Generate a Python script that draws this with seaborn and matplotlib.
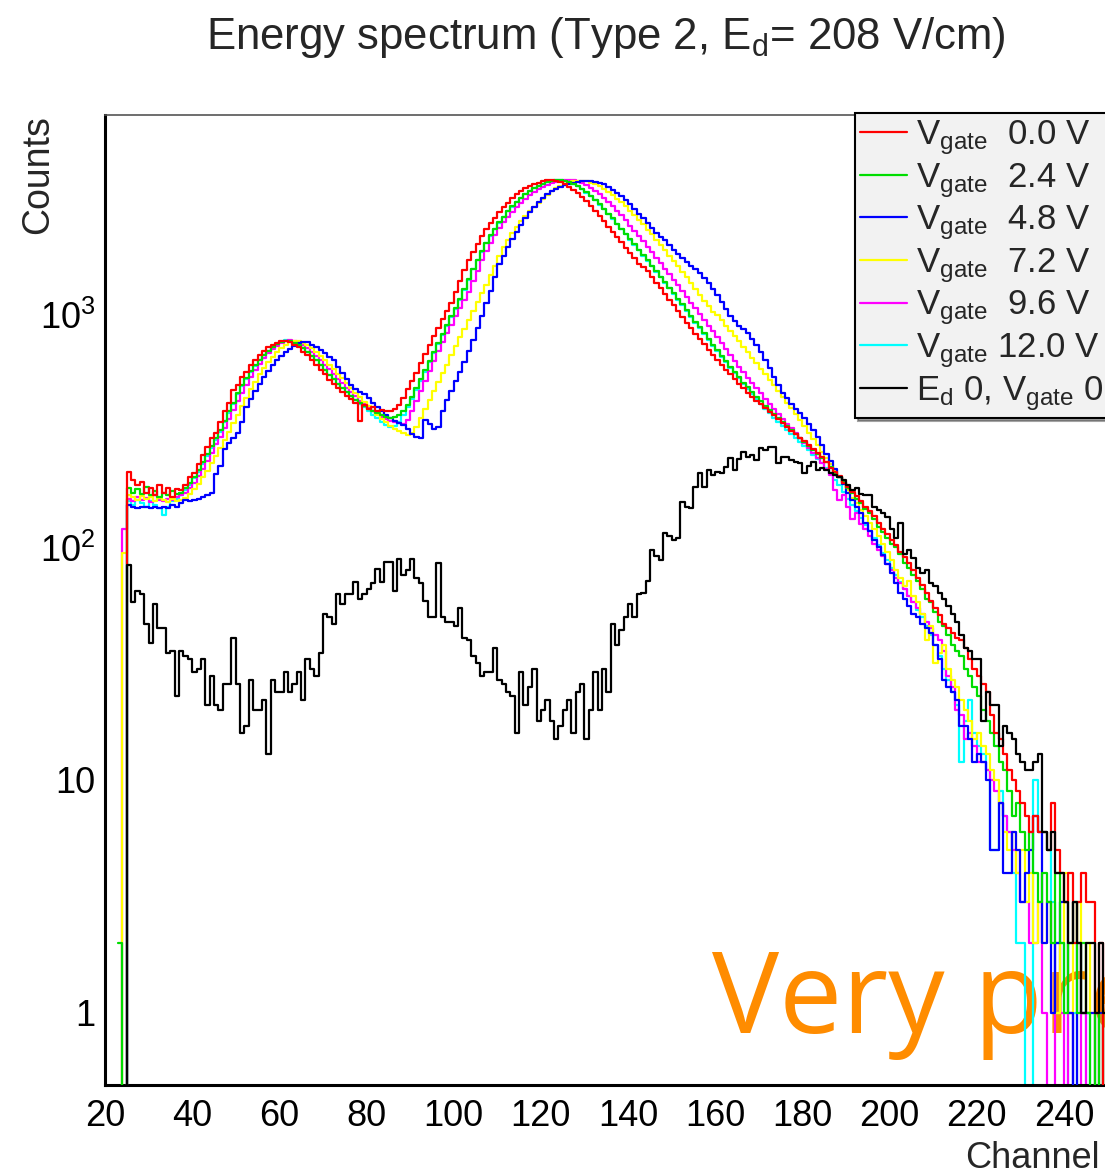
import numpy as np
import pandas as pd
import matplotlib
matplotlib.use('Agg')
import matplotlib.pyplot as plt
import seaborn as sns
from matplotlib.lines import Line2D
from matplotlib.ticker import FixedLocator, LogLocator, MultipleLocator, NullFormatter, FuncFormatter

# counts per channel, first bin = channel 23
first_channel = 23

vgate_00 = [0, 0,
            212, 195, 185, 192, 172, 180, 168, 185, 172, 180, 165, 178, 176, 185, 200,
            210, 229, 250, 270, 295, 312, 345, 385, 420, 475, 500, 540, 570, 610, 640,
            675, 700, 725, 745, 760, 775, 770, 765, 745, 725, 690, 670, 640, 610, 580,
            555, 525, 505, 485, 465, 450, 435, 420, 350, 410, 395, 400, 385, 392, 388,
            385, 395, 410, 440, 480, 520, 565, 620, 680, 740, 810, 880, 960, 1040, 1130,
            1260, 1400, 1560, 1720, 1870, 2020, 2180, 2340, 2480, 2620, 2780, 2900, 3040,
            3170, 3300, 3400, 3500, 3580, 3640, 3700, 3760, 3800, 3810, 3780, 3720, 3650,
            3560, 3460, 3340, 3220, 3080, 2940, 2800, 2660, 2530, 2400, 2280, 2170, 2060,
            1950, 1850, 1750, 1660, 1600, 1540, 1450, 1370, 1300, 1230, 1160, 1100, 1040,
            980, 920, 880, 830, 790, 750, 710, 675, 640, 610, 580, 555, 530, 505, 485,
            462, 445, 428, 412, 398, 383, 370, 356, 343, 330, 318, 307, 297, 287, 276,
            266, 256, 244, 232, 220, 212, 202, 190, 182, 174, 166, 158, 150, 143, 136,
            128, 120, 114, 108, 102, 96, 91, 86, 80, 74, 69, 64, 59, 55, 51, 47, 45, 43,
            41, 40, 37, 33, 30, 28, 26, 24, 19, 16, 15, 13, 11, 10, 9, 8, 7, 6, 7, 6, 6,
            5, 8, 5, 4, 3, 4, 2, 3, 4, 3, 3, 1, 2, 0]

vgate_24 = [2, 0,
            180, 172, 178, 170, 182, 168, 175, 165, 172, 168, 175, 170, 172, 180, 190,
            200, 215, 232, 252, 272, 295, 320, 350, 385, 420, 460, 500, 535, 575, 610,
            640, 672, 700, 725, 748, 762, 775, 770, 760, 742, 720, 695, 668, 640, 610,
            580, 552, 528, 505, 485, 465, 448, 432, 418, 405, 395, 385, 378, 370, 365,
            362, 365, 370, 385, 410, 445, 485, 530, 580, 635, 695, 760, 830, 905, 985,
            1070, 1170, 1290, 1430, 1580, 1730, 1880, 2040, 2200, 2350, 2500, 2650, 2800,
            2930, 3060, 3190, 3310, 3420, 3520, 3600, 3670, 3730, 3780, 3800, 3800, 3780,
            3730, 3660, 3580, 3480, 3370, 3250, 3120, 2990, 2860, 2730, 2600, 2470, 2350,
            2230, 2120, 2010, 1910, 1810, 1720, 1630, 1540, 1460, 1380, 1310, 1240, 1170,
            1110, 1050, 990, 935, 885, 835, 790, 745, 705, 668, 632, 600, 570, 540, 512,
            488, 465, 444, 425, 406, 390, 374, 360, 346, 333, 320, 308, 296, 285, 274,
            262, 252, 242, 232, 222, 210, 200, 192, 180, 172, 162, 156, 146, 140, 132,
            122, 116, 110, 104, 100, 94, 86, 82, 76, 72, 66, 60, 58, 53, 48, 46, 42, 38,
            36, 34, 30, 28, 25, 23, 20, 18, 16, 14, 12, 11, 9, 7, 8, 6, 5, 6, 4, 3,
            4, 3, 2, 4, 2, 1, 2, 3, 1, 2, 1, 0, 1, 0, 1]

vgate_48 = [0, 0,
            152, 150, 148, 150, 149, 148, 150, 148, 150, 148, 152, 150, 155, 160, 158,
            160, 162, 165, 168, 172, 208, 225, 265, 280, 295, 310, 345, 400, 435, 470,
            505, 540, 575, 610, 640, 665, 690, 712, 735, 758, 765, 762, 745, 728, 705,
            685, 662, 640, 600, 565, 530, 500, 480, 465, 455, 440, 420, 400, 385, 370,
            360, 350, 343, 335, 322, 308, 300, 296, 355, 340, 322, 330, 385, 430, 470,
            520, 570, 630, 700, 780, 880, 990, 1120, 1270, 1450, 1650, 1800, 1960,
            2120, 2280, 2440, 2600, 2780, 2920, 3050, 3180, 3300, 3400, 3480, 3550, 3610,
            3660, 3700, 3730, 3750, 3760, 3750, 3730, 3700, 3640, 3560, 3460, 3360, 3240,
            3120, 2990, 2860, 2730, 2600, 2480, 2360, 2260, 2170, 2090, 2000, 1910, 1830,
            1750, 1690, 1630, 1570, 1510, 1440, 1370, 1290, 1220, 1140, 1060, 990, 940,
            900, 870, 840, 790, 740, 690, 640, 590, 540, 500, 460, 440, 415, 395, 378,
            360, 340, 320, 300, 275, 253, 236, 218, 200, 188, 172, 160, 150, 140, 128,
            118, 108, 100, 93, 85, 78, 70, 64, 60, 56, 52, 50, 47, 45, 43, 38, 33, 27,
            25, 24, 22, 17, 17, 15, 12, 13, 12, 10, 5, 5, 8, 4, 4, 6, 5, 3, 4, 5, 7,
            6, 2, 3, 1, 2, 3, 3, 1, 0, 2, 1, 1, 1, 0, 1, 0]

vgate_72 = [0, 95,
            168, 165, 160, 166, 162, 165, 158, 163, 160, 157, 162, 158, 160, 164, 170,
            178, 188, 200, 214, 230, 248, 268, 290, 315, 342, 372, 405, 440, 478, 515,
            555, 592, 628, 662, 695, 722, 745, 762, 772, 770, 760, 742, 720, 695, 668,
            640, 612, 585, 558, 533, 508, 485, 463, 443, 424, 405, 388, 372, 358, 345,
            334, 324, 316, 310, 305, 310, 330, 360, 395, 430, 470, 515, 560, 610, 670,
            735, 805, 870, 950, 1040, 1140, 1240, 1350, 1480, 1630, 1800, 1960, 2100,
            2250, 2400, 2530, 2660, 2800, 2920, 3040, 3160, 3290, 3400, 3500, 3580, 3640,
            3700, 3750, 3780, 3780, 3760, 3710, 3650, 3570, 3480, 3380, 3270, 3160, 3050,
            2930, 2810, 2690, 2570, 2450, 2330, 2220, 2110, 2000, 1900, 1800, 1710, 1620,
            1530, 1450, 1370, 1290, 1220, 1150, 1090, 1030, 1000, 950, 900, 855, 812,
            770, 730, 692, 655, 620, 588, 556, 526, 498, 470, 444, 420, 396, 374, 352,
            332, 312, 294, 276, 258, 242, 228, 214, 200, 188, 176, 164, 155, 145, 136,
            128, 120, 112, 104, 96, 88, 80, 74, 68, 72, 62, 58, 52, 40, 46, 32, 35, 38,
            30, 27, 25, 22, 20, 18, 15, 16, 14, 13, 11, 10, 8, 6, 5, 6, 4, 5, 3, 4, 2,
            3, 2, 3, 2, 1, 2, 4, 1, 2, 3, 1, 2, 1, 0, 1, 0]

vgate_96 = [0, 120,
            162, 158, 165, 160, 163, 157, 168, 160, 158, 162, 160, 165, 168, 172, 180,
            190, 202, 218, 236, 256, 278, 300, 326, 356, 390, 425, 462, 500, 540, 578,
            615, 650, 684, 712, 738, 758, 772, 778, 772, 760, 742, 720, 695, 668, 640,
            612, 585, 558, 532, 508, 486, 465, 446, 428, 412, 398, 385, 374, 364, 356,
            350, 345, 342, 340, 355, 385, 425, 470, 520, 575, 635, 700, 765, 835, 905,
            985, 1070, 1160, 1260, 1400, 1550, 1720, 1880, 2040, 2200, 2360, 2500, 2640,
            2780, 2920, 3040, 3160, 3280, 3380, 3470, 3550, 3620, 3680, 3730, 3770, 3800,
            3810, 3790, 3750, 3690, 3610, 3520, 3420, 3310, 3190, 3070, 2940, 2810, 2680,
            2550, 2420, 2300, 2180, 2070, 1960, 1860, 1760, 1670, 1580, 1500, 1420, 1340,
            1270, 1200, 1130, 1070, 1010, 950, 900, 850, 800, 755, 712, 672, 635, 600,
            568, 538, 510, 484, 460, 437, 415, 395, 376, 358, 341, 325, 310, 296, 282,
            268, 255, 242, 230, 218, 205, 176, 160, 168, 150, 132, 140, 126, 120, 112,
            104, 98, 92, 85, 80, 74, 70, 66, 62, 58, 55, 52, 48, 45, 42, 40, 36, 28,
            25, 20, 19, 15, 16, 14, 12, 12, 11, 10, 9, 8, 7, 6, 5, 4, 3, 3, 2, 2, 3,
            1, 0, 0, 2, 1, 0, 1, 0, 0, 1, 0, 0, 0, 0, 0]

vgate_120 = [0, 0,
             158, 152, 160, 155, 150, 158, 153, 148, 138, 150, 158, 162, 168, 176, 186,
             198, 212, 228, 248, 268, 290, 315, 345, 380, 415, 455, 495, 530, 570, 605,
             638, 670, 700, 725, 748, 765, 778, 772, 760, 742, 720, 695, 668, 640, 610,
             580, 552, 528, 505, 485, 465, 448, 430, 415, 400, 385, 372, 360, 348, 335,
             330, 332, 345, 370, 400, 435, 475, 520, 570, 625, 685, 750, 820, 895, 975,
             1060, 1160, 1280, 1420, 1570, 1720, 1870, 2030, 2190, 2340, 2490, 2640, 2790,
             2920, 3050, 3180, 3300, 3410, 3510, 3590, 3660, 3720, 3770, 3790, 3790, 3770,
             3720, 3650, 3570, 3470, 3360, 3240, 3110, 2980, 2850, 2720, 2590, 2460, 2340,
             2220, 2110, 2000, 1900, 1800, 1710, 1620, 1530, 1450, 1370, 1300, 1230, 1160,
             1100, 1040, 980, 925, 875, 825, 780, 738, 698, 660, 625, 592, 562, 533, 506,
             480, 456, 434, 414, 395, 378, 362, 348, 334, 320, 308, 296, 284, 273, 262,
             250, 240, 230, 220, 208, 196, 185, 174, 162, 152, 143, 134, 125, 118, 110,
             102, 95, 88, 82, 76, 71, 66, 62, 58, 54, 50, 46, 42, 38, 34, 30, 27, 24,
             21, 12, 18, 22, 16, 14, 13, 11, 5, 5, 9, 7, 6, 4, 2, 2, 0, 0, 10, 6, 6,
             5, 3, 1, 2, 1, 0, 1, 0, 0, 1, 0, 0, 0, 0]

ed0_vgate0 = [0, 0,
              84, 58, 65, 63, 47, 39, 57, 45, 45, 35, 36, 23, 36, 34, 33,
              29, 30, 33, 21, 28, 21, 20, 26, 26, 41, 26, 16, 17, 27, 20,
              20, 22, 13, 27, 24, 24, 29, 24, 26, 29, 22, 33, 30, 28, 35,
              52, 50, 47, 63, 57, 63, 63, 71, 60, 63, 66, 70, 81, 71, 87,
              87, 65, 89, 76, 80, 89, 74, 70, 59, 50, 50, 86, 50, 48, 48,
              46, 55, 41, 40, 34, 32, 28, 29, 29, 37, 27, 26, 24, 23, 16,
              29, 21, 25, 30, 18, 20, 22, 18, 15, 17, 20, 22, 16, 24, 26,
              15, 20, 29, 20, 30, 24, 47, 38, 44, 50, 57, 50, 63, 64, 72,
              98, 92, 88, 115, 112, 108, 110, 157, 150, 148, 182, 210, 182, 215, 205,
              212, 210, 222, 243, 215, 240, 257, 245, 250, 238, 268, 262, 270, 270, 231,
              245, 245, 238, 232, 231, 210, 225, 234, 215, 220, 215, 210, 205, 200, 195,
              185, 177, 180, 170, 168, 168, 150, 145, 141, 135, 120, 110, 127, 94, 98,
              90, 82, 78, 80, 70, 68, 64, 60, 56, 52, 48, 42, 37, 36, 33, 33, 18, 24,
              21, 21, 14, 17, 16, 15, 13, 12, 11, 11, 12, 13, 6, 5, 6, 4, 4, 3, 2, 3,
              2, 1, 2, 2, 1, 2, 1]

series_labels = [r'V$_{\rm gate}$  0.0 V', r'V$_{\rm gate}$  2.4 V', r'V$_{\rm gate}$  4.8 V',
                 r'V$_{\rm gate}$  7.2 V', r'V$_{\rm gate}$  9.6 V', r'V$_{\rm gate}$ 12.0 V',
                 r'E$_{\rm d}$ 0, V$_{\rm gate}$ 0 V']
series_counts = [vgate_00, vgate_24, vgate_48, vgate_72, vgate_96, vgate_120, ed0_vgate0]
series_colors = ['#ff0000', '#00dd00', '#0000ff', '#ffff00', '#ff00ff', '#00ffff', '#000000']
series_z = [6, 5, 4, 3, 2, 1, 7]

sns.set_style('white')
plt.rcParams['font.family'] = ['Liberation Sans', 'DejaVu Sans']
plt.rcParams['mathtext.fontset'] = 'custom'
plt.rcParams['mathtext.rm'] = 'Liberation Sans'
plt.rcParams['mathtext.it'] = 'Liberation Sans:italic'

fig = plt.figure(figsize=(11.05, 11.72), dpi=100)
ax = fig.add_axes([0.095, 0.0742, 0.9468, 0.8277])

for counts, color, z in zip(series_counts, series_colors, series_z):
    df = pd.DataFrame({'channel': np.arange(first_channel, first_channel + len(counts)) + 0.5,
                       'counts': np.asarray(counts, dtype=float)})
    sns.histplot(data=df, x='channel', weights='counts', binwidth=1,
                 binrange=(first_channel, first_channel + len(counts)),
                 element='step', fill=False, color=color, linewidth=1.6, ax=ax, zorder=z)

ax.set_yscale('log')
ax.set_xlim(20, 260)
ax.set_ylim(0.4877, 7244)

ax.xaxis.set_major_locator(MultipleLocator(20))
ax.xaxis.set_minor_locator(MultipleLocator(5))
ax.yaxis.set_major_locator(FixedLocator([1, 10, 100, 1000]))
ax.yaxis.set_minor_locator(LogLocator(base=10, subs=np.arange(2, 10)))
ax.yaxis.set_minor_formatter(NullFormatter())
ylabels = {1: '1', 10: '10', 100: r'10$^{2}$', 1000: r'10$^{3}$'}
ax.yaxis.set_major_formatter(FuncFormatter(lambda v, p: ylabels.get(int(round(v)), '')))

ax.tick_params(axis='both', which='both', direction='in', top=False, right=False,
               colors='black', labelsize=26, width=1.5)
ax.tick_params(axis='y', which='major', length=23, pad=7)
ax.tick_params(axis='y', which='minor', length=12)
ax.tick_params(axis='x', which='major', length=20, pad=10)
ax.tick_params(axis='x', which='minor', length=11)
for side in ['left', 'bottom']:
    ax.spines[side].set_linewidth(2.2)
    ax.spines[side].set_color('black')
ax.spines['top'].set_linewidth(1.2)
ax.spines['top'].set_color('#555555')
ax.spines['right'].set_visible(False)

ax.set_xlabel('')
ax.set_ylabel('Counts', fontsize=27, loc='top')
ax.yaxis.set_label_coords(-0.047, 1.0)

fig.text(965 / 1105, 1 - 1168 / 1172, 'Channel', fontsize=26, ha='left', va='baseline')
fig.text(606 / 1105, 1 - 38 / 1172, r'Energy spectrum (Type 2, E$_{\rm d}$= 208 V/cm)',
         fontsize=31.5, ha='center', va='center')

ax.text(712 / 1105, 1 - 1033 / 1172, 'Very preliminary', transform=fig.transFigure,
        fontsize=81, color='#ff8c00', family='Open Sans', ha='left', va='baseline', zorder=0.5)

handles = [Line2D([], [], color=c, linewidth=1.6) for c in series_colors]
leg = ax.legend(handles, series_labels, loc='upper left', bbox_to_anchor=(855 / 1105, 1 - 113 / 1172),
                bbox_transform=fig.transFigure, borderaxespad=0, fontsize=25, frameon=True,
                fancybox=False, shadow=True, facecolor='#f2f2f2', edgecolor='black', framealpha=1,
                handlelength=1.35, handletextpad=0.25, borderpad=0.15, labelspacing=0.11)
leg.get_frame().set_linewidth(1.5)
leg.set_zorder(10)

fig.savefig('out.png', dpi=100)
